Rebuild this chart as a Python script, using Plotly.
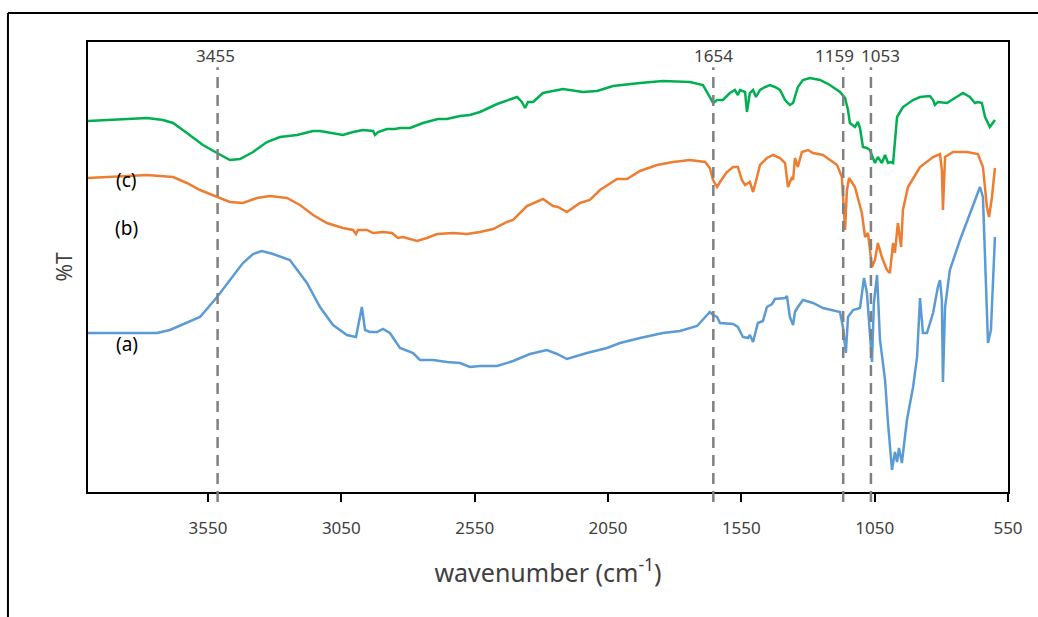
import plotly.graph_objects as go

# ---------------- data ----------------
# (c) green spectrum
c_wn = [4000, 3906, 3779, 3719, 3681, 3629, 3569, 3516, 3468, 3430,
        3381, 3329, 3280, 3216, 3156, 3130, 3081, 3044, 3006, 2969,
        2931, 2924, 2912, 2879, 2849, 2830, 2792, 2744, 2688, 2654,
        2605, 2568, 2530, 2466, 2391, 2373, 2361, 2350, 2331, 2294,
        2219, 2144, 2091, 2031, 1930, 1844, 1743, 1694, 1668, 1656,
        1641, 1619, 1593, 1574, 1563, 1555, 1536, 1529, 1518, 1506,
        1495, 1480, 1461, 1443, 1424, 1405, 1386, 1368, 1356, 1338,
        1319, 1293, 1255, 1218, 1180, 1161, 1150, 1143, 1124, 1113,
        1105, 1094, 1079, 1068, 1049, 1038, 1023, 1011, 1000, 989,
        981, 966, 944, 906, 880, 843, 831, 824, 813, 779,
        749, 719, 693, 674, 663, 648, 636, 618, 599]
c_t = [371, 372, 374, 372, 369, 359, 347, 339, 332, 333,
       340, 350, 355, 357, 361, 361, 359, 357, 360, 362,
       361, 357, 360, 363, 363, 364, 364, 369, 373, 373,
       376, 377, 380, 388, 395, 390, 384, 390, 390, 399,
       403, 400, 401, 406, 409, 411, 410, 407, 395, 389,
       392, 392, 399, 402, 397, 402, 400, 380, 399, 402,
       395, 402, 405, 407, 405, 402, 392, 387, 389, 405,
       412, 414, 412, 407, 400, 394, 382, 369, 365, 370,
       364, 345, 344, 342, 329, 335, 329, 337, 329, 330,
       329, 375, 385, 392, 395, 396, 392, 387, 390, 389,
       394, 399, 395, 389, 390, 389, 375, 365, 372]

# (b) orange spectrum
b_wn = [4000, 3906, 3779, 3681, 3629, 3580, 3516, 3468, 3419, 3366,
        3318, 3254, 3205, 3156, 3104, 3044, 3006, 2995, 2988, 2954,
        2931, 2894, 2860, 2838, 2819, 2766, 2729, 2691, 2631, 2579,
        2530, 2481, 2429, 2406, 2354, 2331, 2294, 2256, 2238, 2204,
        2155, 2118, 2080, 2016, 1979, 1930, 1866, 1806, 1743, 1686,
        1668, 1656, 1641, 1630, 1604, 1581, 1563, 1548, 1536, 1518,
        1506, 1491, 1480, 1454, 1431, 1405, 1386, 1375, 1360, 1356,
        1349, 1338, 1323, 1300, 1281, 1244, 1191, 1173, 1161, 1154,
        1146, 1124, 1098, 1086, 1075, 1060, 1049, 1038, 1023, 1004,
        993, 981, 974, 963, 951, 944, 925, 880, 831, 805,
        798, 794, 786, 756, 704, 663, 644, 629, 621, 610,
        599]
b_t = [314, 315, 317, 315, 309, 302, 295, 290, 289, 294,
       296, 294, 287, 277, 269, 264, 262, 258, 262, 262,
       259, 260, 259, 254, 255, 251, 254, 258, 259, 258,
       260, 263, 270, 272, 286, 289, 293, 286, 285, 280,
       289, 292, 302, 313, 313, 321, 327, 330, 332, 330,
       324, 312, 305, 310, 320, 325, 325, 312, 307, 310,
       300, 315, 327, 334, 337, 334, 329, 305, 315, 312,
       334, 325, 340, 342, 339, 337, 327, 315, 262, 302,
       314, 305, 279, 255, 259, 225, 232, 249, 235, 222,
       219, 249, 239, 269, 245, 282, 305, 325, 335, 338,
       322, 282, 335, 340, 340, 338, 325, 285, 275, 295,
       324]

# (a) blue spectrum
a_wn = [4000, 3741, 3693, 3629, 3580, 3516, 3468, 3419, 3381, 3348,
        3306, 3243, 3179, 3130, 3081, 3029, 2995, 2973, 2961, 2943,
        2916, 2894, 2868, 2830, 2781, 2755, 2706, 2654, 2605, 2568,
        2530, 2466, 2406, 2343, 2279, 2241, 2204, 2129, 2054, 2005,
        1930, 1844, 1780, 1716, 1668, 1656, 1641, 1630, 1581, 1563,
        1544, 1525, 1518, 1506, 1488, 1469, 1454, 1435, 1424, 1386,
        1379, 1368, 1356, 1349, 1338, 1319, 1281, 1244, 1180, 1169,
        1158, 1150, 1131, 1105, 1090, 1079, 1060, 1053, 1041, 1030,
        1011, 1000, 985, 974, 966, 959, 948, 929, 906, 891,
        880, 869, 854, 831, 813, 805, 798, 794, 786, 768,
        730, 685, 666, 655, 644, 625, 614, 606, 599]
a_t = [159, 159, 162, 169, 175, 195, 212, 229, 238, 241,
       238, 232, 209, 185, 167, 157, 155, 185, 162, 160,
       160, 163, 159, 144, 139, 132, 132, 130, 129, 125,
       126, 126, 131, 138, 142, 138, 133, 139, 144, 149,
       154, 159, 161, 166, 180, 177, 175, 169, 168, 165,
       155, 154, 157, 150, 169, 171, 185, 188, 193, 194,
       196, 175, 167, 180, 185, 192, 189, 184, 180, 165,
       139, 175, 182, 184, 214, 199, 130, 189, 217, 152,
       112, 69, 22, 40, 30, 44, 29, 72, 105, 135,
       194, 159, 159, 179, 205, 212, 192, 110, 185, 222,
       252, 285, 299, 305, 295, 149, 162, 219, 255]

# marked bands
marker_pos = [3514, 1655, 1168, 1064]
marker_labels = ["3455", "1654", "1159", "1053"]
marker_label_shift = [-2, 0, -9, 10]

series_labels = ["(a)", "(b)", "(c)"]
series_label_y = [148, 264, 312]

x_ticks = [3550, 3050, 2550, 2050, 1550, 1050, 550]

# ---------------- figure ----------------
fig = go.Figure()
for wn, t, col in [(a_wn, a_t, "#5B9BD5"), (b_wn, b_t, "#ED7D31"), (c_wn, c_t, "#00B050")]:
    fig.add_trace(go.Scatter(x=wn, y=t, mode="lines",
                             line=dict(color=col, width=2.5), showlegend=False,
                             hoverinfo="skip"))

shapes = []
annotations = []
for pos, lab, sh in zip(marker_pos, marker_labels, marker_label_shift):
    shapes.append(dict(type="line", xref="x", yref="paper", x0=pos, x1=pos,
                       y0=-0.022, y1=0.944,
                       line=dict(color="#808080", width=2.5, dash="11px,7px")))
    annotations.append(dict(x=pos, y=0.969, xref="x", yref="paper", text=lab,
                            showarrow=False, xshift=sh, yanchor="middle",
                            font=dict(family="Noto Sans", size=17, color="#404040")))

for lab, yv in zip(series_labels, series_label_y):
    annotations.append(dict(x=3855, y=yv, xref="x", yref="y", text=lab,
                            showarrow=False, yanchor="middle",
                            font=dict(family="Noto Sans", size=19, color="#000000")))

# outer frame lines (page border fragment)
shapes.append(dict(type="line", xref="paper", yref="paper", x0=-0.087, x1=-0.087,
                   y0=1.0644, y1=-0.30, line=dict(color="#000000", width=2)))
shapes.append(dict(type="line", xref="paper", yref="paper", x0=-0.087, x1=1.05,
                   y0=1.0644, y1=1.0644, line=dict(color="#000000", width=2)))

fig.update_layout(
    width=1038, height=617,
    margin=dict(l=88, r=30, t=42, b=125),
    paper_bgcolor="white", plot_bgcolor="white",
    shapes=shapes, annotations=annotations,
    xaxis=dict(range=[4000, 550], tickmode="array", tickvals=x_ticks,
               ticktext=[str(v) for v in x_ticks],
               ticks="outside", ticklen=8, tickwidth=1.5, tickcolor="#000000",
               ticklabelstandoff=12,
               showline=True, linecolor="#000000", linewidth=1.5, mirror=True,
               showgrid=False, zeroline=False,
               tickfont=dict(family="Noto Sans", size=17, color="#404040"),
               title=dict(text="wavenumber (cm<sup>-1</sup>)", standoff=26,
                          font=dict(family="Noto Sans", size=25, color="#404040"))),
    yaxis=dict(range=[0, 450], showticklabels=False, ticks="",
               showline=True, linecolor="#000000", linewidth=1.5, mirror=True,
               showgrid=False, zeroline=False,
               title=dict(text="%T", standoff=8,
                          font=dict(family="Noto Sans", size=21, color="#404040"))),
)

fig.write_html("out.html")
